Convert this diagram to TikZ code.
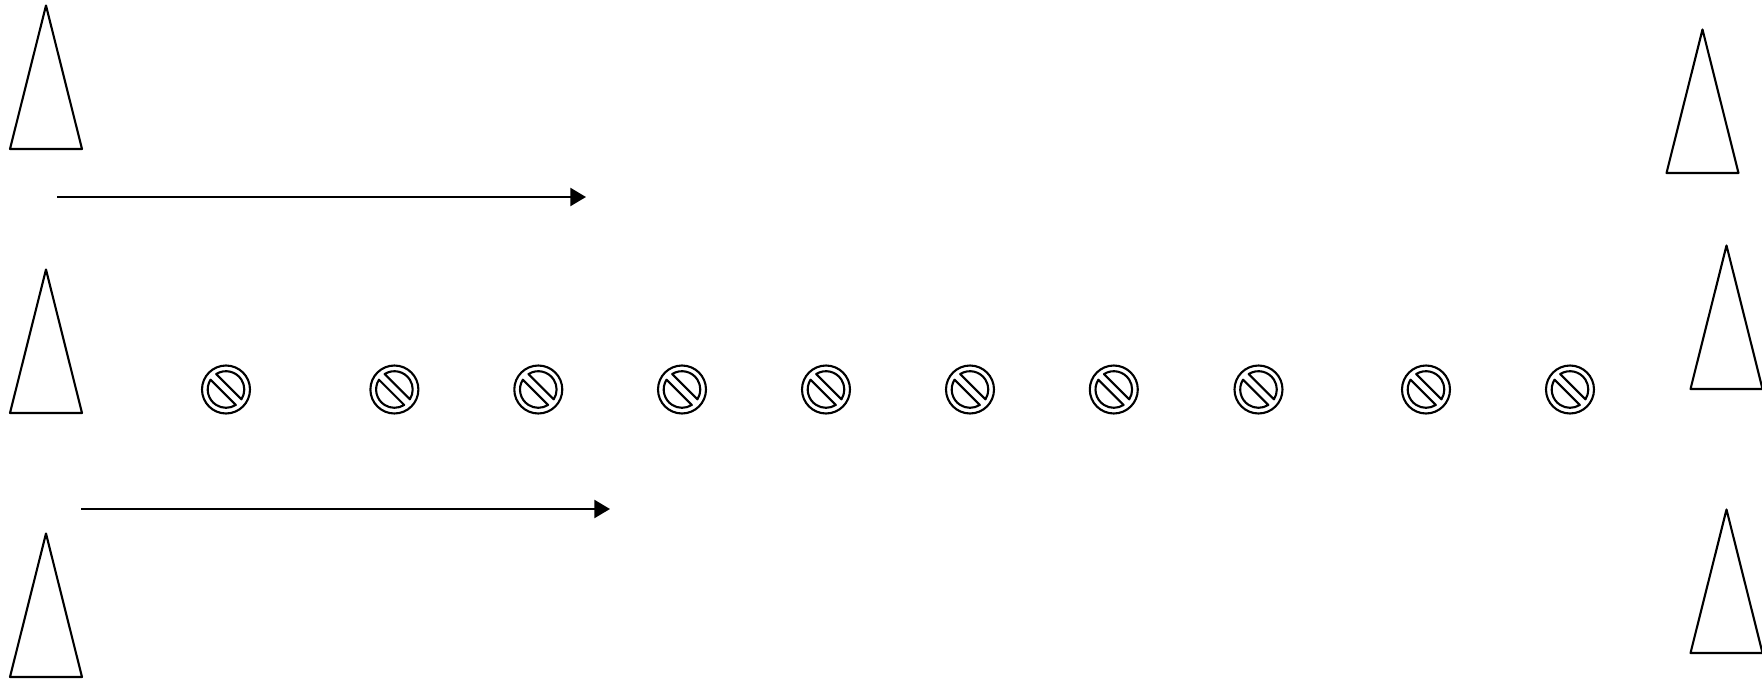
\documentclass[tikz,border=0pt]{standalone}
\usetikzlibrary{arrows.meta}
\tikzset{
  cone/.style={draw=black,line width=2.1pt,line join=round},
  flow/.style={draw=black,line width=2.4pt,-{Triangle[length=15.7pt,width=18pt]}},
  signline/.style={draw=black,line width=2.1pt,line join=round},
  pics/conemark/.style={code={
    \draw[cone] (0pt,0pt) -- (36pt,0pt) -- (0pt,143.5pt) -- (-36pt,0pt) -- cycle;
  }},
  pics/nosign/.style={code={
    \draw[signline] (0pt,0pt) circle[radius=24pt];
    \draw[signline] (122.4:18.3pt) arc[start angle=122.4,end angle=-32.4,radius=18.3pt] -- cycle;
    \draw[signline] (147.6:18.3pt) arc[start angle=147.6,end angle=302.4,radius=18.3pt] -- cycle;
  }}
}
\begin{document}
\begin{tikzpicture}[x=1pt,y=-1pt]
\useasboundingbox (0,0) rectangle (1762,680);
\fill[white] (0,0) rectangle (1762,680);
% left cones
\pic at (46,149) {conemark};
\pic at (46,413) {conemark};
\pic at (46,677) {conemark};
% right cones
\pic at (1702.5,173) {conemark};
\pic at (1726.5,389) {conemark};
\pic at (1726.5,653) {conemark};
% signs
\foreach \sx in {226,394.4,538.3,682,826,970,1113.8,1258.5,1426,1570}{
  \pic at (\sx,389.5) {nosign};
}
% arrows
\coordinate (a1s) at (57,197);
\coordinate (a1e) at (586,197);
\coordinate (a2s) at (81,509);
\coordinate (a2e) at (610,509);
\draw[flow] (a1s) -- (a1e);
\draw[flow] (a2s) -- (a2e);
\end{tikzpicture}
\end{document}
